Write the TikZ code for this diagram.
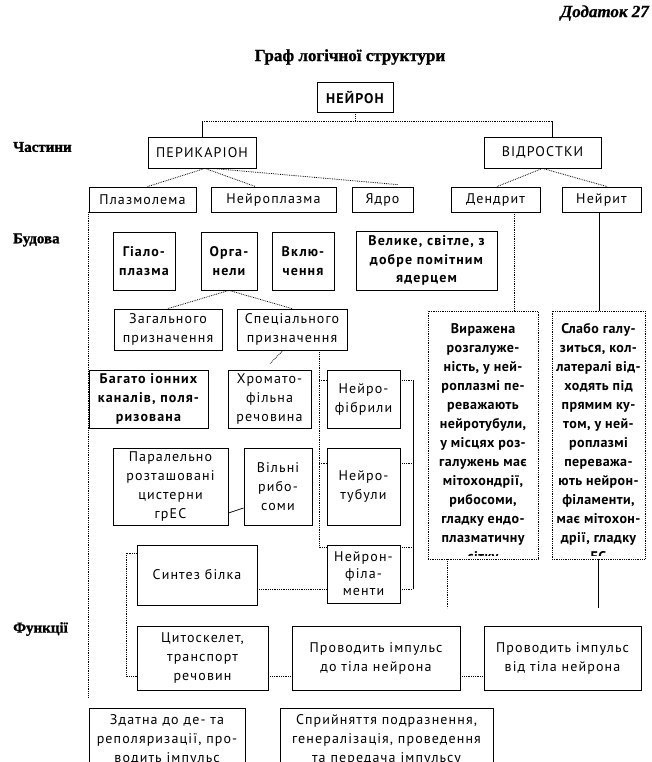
\documentclass[tikz,border=0pt]{standalone}
\usepackage{fontspec}
\setmainfont{PT Sans}[LetterSpace=8]
\newfontfamily\descfont{PT Sans}[LetterSpace=3]
\newfontfamily\heavyfont{Liberation Serif Bold}[FakeBold=1.2]
\newfontfamily\heavyitfont{Liberation Serif Bold Italic}[FakeBold=0.8]
\newcommand\boxfs{\fontsize{14}{19}\selectfont}
\newcommand\boldfs{\fontsize{14}{18.7}\selectfont\bfseries}
\newcommand\descfs{\descfont\fontsize{14}{19}\selectfont\bfseries}
\tikzset{
  box/.style={draw, line width=0.8pt, inner sep=0pt, align=center, font=\boxfs},
  bbox/.style={box, font=\boldfs},
  dbox/.style={draw, line width=0.8pt, densely dotted, inner sep=0pt},
  dotline/.style={line width=0.8pt, densely dotted},
  thinline/.style={line width=0.7pt},
  lbl/.style={font=\heavyfont\fontsize{15}{17}\selectfont, anchor=west, inner sep=0pt}
}
\begin{document}
\begin{tikzpicture}[x=1pt,y=-1pt]
\useasboundingbox (0,0) rectangle (652,762);
\clip (0,0) rectangle (652,762);
\fill[white] (0,0) rectangle (652,762);

% header
\node[font=\heavyitfont\fontsize{17}{19}\selectfont, anchor=east, inner sep=0pt] (dod) at (649,13) {Додаток 27};
\node[font=\heavyfont\fontsize{17}{19}\selectfont, inner sep=0pt] (title) at (350,57) {Граф логічної структури};

% side labels
\node[lbl] (l1) at (13,147) {Частини};
\node[lbl] (l2) at (13,240) {Будова};
\node[lbl] (l3) at (13,629) {Функції};

% level 0/1
\node[bbox, minimum width=76, minimum height=30] (neuron) at (355,97) {НЕЙРОН};
\node[box, minimum width=108, minimum height=31] (peri) at (202,152.5) {ПЕРИКАРІОН};
\node[box, minimum width=117, minimum height=31] (vid) at (542.5,152.5) {ВІДРОСТКИ};

% level 2
\node[box, minimum width=107, minimum height=25] (plazm) at (142.5,199.5) {Плазмолема};
\node[box, minimum width=125, minimum height=25] (neuropl) at (273.5,199.5) {Нейроплазма};
\node[box, minimum width=61, minimum height=25] (yadro) at (382.5,199.5) {Ядро};
\node[box, minimum width=89, minimum height=25] (dendr) at (495.5,199.5) {Дендрит};
\node[box, minimum width=79, minimum height=25] (neurit) at (601.5,199.5) {Нейрит};

% level 3
\node[bbox, minimum width=62, minimum height=58] (hialo) at (144,261) {Гіало-\\плазма};
\node[bbox, minimum width=56, minimum height=58] (orhan) at (229,261) {Орга-\\нели};
\node[bbox, minimum width=62, minimum height=58] (vkl) at (303,261) {Вклю-\\чення};
\node[bbox, minimum width=141, minimum height=59] (velyke) at (426.5,260.5) {Велике, світле, з\\добре помітним\\ядерцем};

\node[box, minimum width=108, minimum height=41] (zah) at (168,329.5) {Загального\\призначення};
\node[box, minimum width=110, minimum height=41] (spec) at (292,329.5) {Спеціального\\призначення};

\node[bbox, minimum width=119, minimum height=58] (bahato) at (148.5,399) {Багато іонних\\каналів, поля-\\ризована};
\node[box, minimum width=83, minimum height=58] (hromato) at (269.5,399) {Хромато-\\фільна\\речовина};
\node[box, minimum width=73, minimum height=58] (nfibr) at (363.5,399) {Нейро-\\фібрили};

\node[box, minimum width=115, minimum height=77] (paral) at (170.5,486.5) {Паралельно\\розташовані\\цистерни\\грЕС};
\node[box, minimum width=68, minimum height=77] (vilni) at (278,486.5) {Вільні\\рибо-\\соми};
\node[box, minimum width=73, minimum height=77] (ntub) at (363.5,486.5) {Нейро-\\тубули};

\node[box, minimum width=120, minimum height=60] (syntez) at (197,575) {Синтез білка};
\node[box, minimum width=73, minimum height=58, font=\fontsize{14}{17}\selectfont] (nfil) at (363.5,574) {Нейрон-\\філа-\\менти};

% description boxes
\node[dbox, minimum width=110, minimum height=248] (ddesc) at (483,435) {};
\node[dbox, minimum width=93, minimum height=248] (ndesc) at (598.5,435) {};
\begin{scope}
\clip (ddesc.north west) rectangle ([yshift=4pt]ddesc.south east);
\node[anchor=north, inner sep=0pt, align=center, font=\descfs] (dtext) at (483,323.5)
 {Виражена\\розгалуже-\\ність, у ней-\\роплазмі пе-\\реважають\\нейротубули,\\у місцях роз-\\галужень має\\мітохондрії,\\рибосоми,\\гладку ендо-\\плазматичну\\сітку};
\end{scope}
\begin{scope}
\clip (ndesc.north west) rectangle ([yshift=4pt]ndesc.south east);
\node[anchor=north, inner sep=0pt, align=center, font=\descfs] (ntext) at (598.5,323.5)
 {Слабо галу-\\зиться, кол-\\латералі від-\\ходять під\\прямим ку-\\том, у ней-\\роплазмі\\переважа-\\ють нейрон-\\філаменти,\\має мітохон-\\дрії, гладку\\ЕС};
\end{scope}

% functions
\node[box, minimum width=131, minimum height=64] (cyto) at (202.5,658) {Цитоскелет,\\транспорт\\речовин};
\node[box, minimum width=168, minimum height=64] (prdo) at (376,658) {Проводить імпульс\\до тіла нейрона};
\node[box, minimum width=157, minimum height=64] (prvid) at (562.5,658) {Проводить імпульс\\від тіла нейрона};

\node[box, minimum width=156, minimum height=72, anchor=north] (zdatna) at (167,708) {};
\node[anchor=north, inner sep=0pt, align=center, font=\boxfs] (ztext) at (167,714) {Здатна до де- та\\реполяризації, про-\\водить імпульс};
\node[box, minimum width=213, minimum height=72, anchor=north] (spryin) at (386.5,708) {};
\node[anchor=north, inner sep=0pt, align=center, font=\boxfs] (stext) at (386.5,714) {Сприйняття подразнення,\\генералізація, проведення\\та передача імпульсу};

% ---------- connectors ----------
\coordinate (bus) at (355,121);
\draw[dotline] (neuron.south) -- (bus);
\draw[dotline] (peri.north |- bus) -- ([xshift=10pt]vid.north |- bus);
\draw[thinline] (peri.north) -- (peri.north |- bus);
\draw[thinline] ([xshift=10pt]vid.north) -- ([xshift=10pt]vid.north |- bus);

\draw[dotline] ([xshift=3pt]peri.south) -- ([xshift=5pt]plazm.north);
\draw[dotline] ([xshift=3pt]peri.south) -- ([xshift=-18pt]neuropl.north);
\draw[dotline] ([xshift=10pt]peri.south) -- ([xshift=15pt,yshift=2pt]yadro.north);
\draw[dotline] (vid.south) -- ([xshift=1.5pt]dendr.north);
\draw[dotline] (vid.south) -- ([xshift=5.5pt]neurit.north);

\draw[dotline] (orhan.south) -- (zah.north);
\draw[dotline] (orhan.south) -- (spec.north);

\coordinate (plend) at (89,697);
\draw[dotline] (plazm.south west) -- (plazm.south west |- plend);

\draw[dotline] ([xshift=18.5pt]dendr.south) -- ([xshift=18.5pt]dendr.south |- ddesc.north);
\draw[thinline] ([xshift=-2.5pt]neurit.south) -- ([xshift=-2.5pt]neurit.south |- ndesc.north);

\draw[dotline] ([xshift=-9pt]spec.south) -- ([xshift=0.5pt,yshift=6pt]hromato.north);

\coordinate (sx) at (319,0);
\draw[dotline] (spec.south -| sx) -- (sx |- 0,547) -- (nfil.west |- 0,547);
\draw[dotline] (sx |- 0,380) -- (nfibr.west |- 0,380);
\draw[dotline] (sx |- 0,463) -- (ntub.west |- 0,463);

\coordinate (rx) at (413,0);
\draw[thinline] (rx |- 0,380) -- (rx |- 0,589);
\draw[dotline] (nfibr.east |- 0,380) -- (rx |- 0,380);
\draw[dotline] (ntub.east |- 0,463) -- (rx |- 0,463);
\draw[dotline] (nfil.east |- 0,547) -- (rx |- 0,547);
\draw[dotline] (nfil.east |- 0,589) -- (rx |- 0,589);

\draw[dotline] (syntez.east |- 0,589) -- (nfil.west |- 0,589);
\draw[thinline] (paral.east |- 0,513) -- (vilni.west |- 0,508);

\coordinate (lx) at (126,0);
\draw[dotline] (syntez.west |- 0,553) -- (lx |- 0,553) -- (lx |- 0,676) -- (cyto.west |- 0,676);

\draw[dotline] (cyto.east |- 0,676) -- (prdo.west |- 0,676);
\draw[dotline] (prdo.east |- 0,676) -- (prvid.west |- 0,676);

\coordinate (fy) at (0,608);
\draw[dotline] ([xshift=-36pt]ddesc.south) -- ([xshift=-36pt]ddesc.south |- fy);
\draw[thinline] (ndesc.south) -- (ndesc.south |- fy);
\end{tikzpicture}
\end{document}
